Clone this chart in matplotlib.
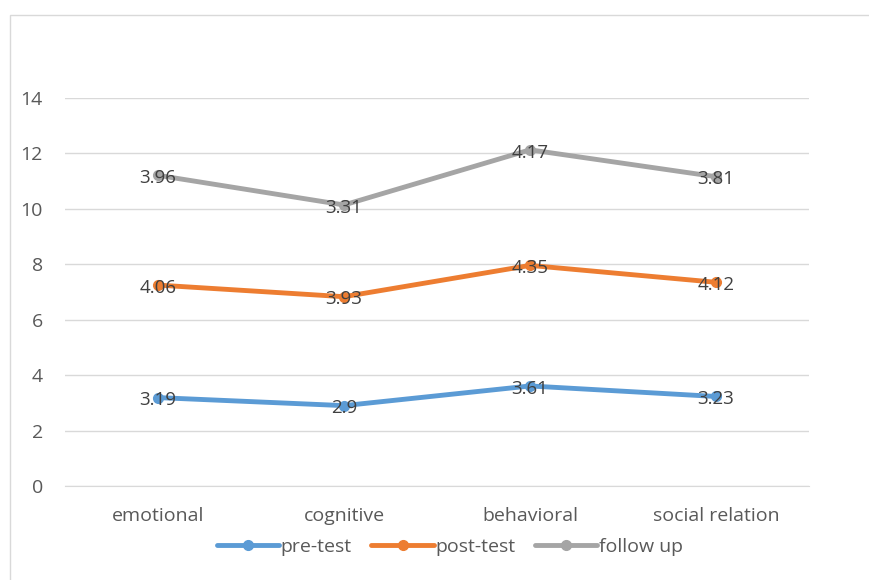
import numpy as np
import matplotlib.pyplot as plt
from matplotlib.patches import Rectangle

# data (stacked line chart)
categories = ["emotional", "cognitive", "behavioral", "social relation"]
pre_test = [3.19, 2.9, 3.61, 3.23]
post_test = [4.06, 3.93, 4.35, 4.12]
follow_up = [3.96, 3.31, 4.17, 3.81]
series_names = ["pre-test", "post-test", "follow up"]
colors = ["#5B9BD5", "#ED7D31", "#A5A5A5"]

plt.rcParams["font.family"] = ["Open Sans", "DejaVu Sans"]

fig = plt.figure(figsize=(8.69, 5.8), dpi=100)
ax = fig.add_axes([65 / 869, 1 - 486 / 580, (809 - 65) / 869, (486 - 98) / 580])

# chart border
fig.patches.append(Rectangle((10 / 869, -0.1), 1.2, 1 - 15 / 580 + 0.1,
                             transform=fig.transFigure, fill=False,
                             edgecolor="#D9D9D9", linewidth=1))

x = np.arange(len(categories))
cum = np.zeros(len(categories))
for name, vals, c in zip(series_names, [pre_test, post_test, follow_up], colors):
    cum = cum + np.array(vals)
    ax.plot(x, cum, color=c, linewidth=3.5, marker="o", markersize=7,
            label=name, solid_capstyle="round", zorder=3)
    for xi, yi, v in zip(x, cum, vals):
        ax.annotate(f"{v:g}", (xi, yi), xytext=(0, -2), textcoords="offset points",
                    ha="center", va="center", fontsize=13.5,
                    color="#404040", zorder=4)

ax.set_xlim(-0.5, 3.5)
ax.set_ylim(0, 14)
ax.set_yticks(range(0, 15, 2))
ax.set_xticks(x)
ax.set_xticklabels(categories)
ax.yaxis.grid(True, color="#D9D9D9", linewidth=1)
ax.set_axisbelow(True)
for s in ["top", "right", "left"]:
    ax.spines[s].set_visible(False)
ax.spines["bottom"].set_color("#D9D9D9")
ax.tick_params(axis="both", length=0, labelsize=14, colors="#595959")
ax.tick_params(axis="x", pad=15)
ax.tick_params(axis="y", pad=16)

fig.legend(loc="center", bbox_to_anchor=(450 / 869, 1 - 547 / 580), ncol=3,
           frameon=False, fontsize=14, labelcolor="#595959",
           handlelength=3.2, handletextpad=0.1, columnspacing=1.0)

fig.savefig("out.png", dpi=100)
